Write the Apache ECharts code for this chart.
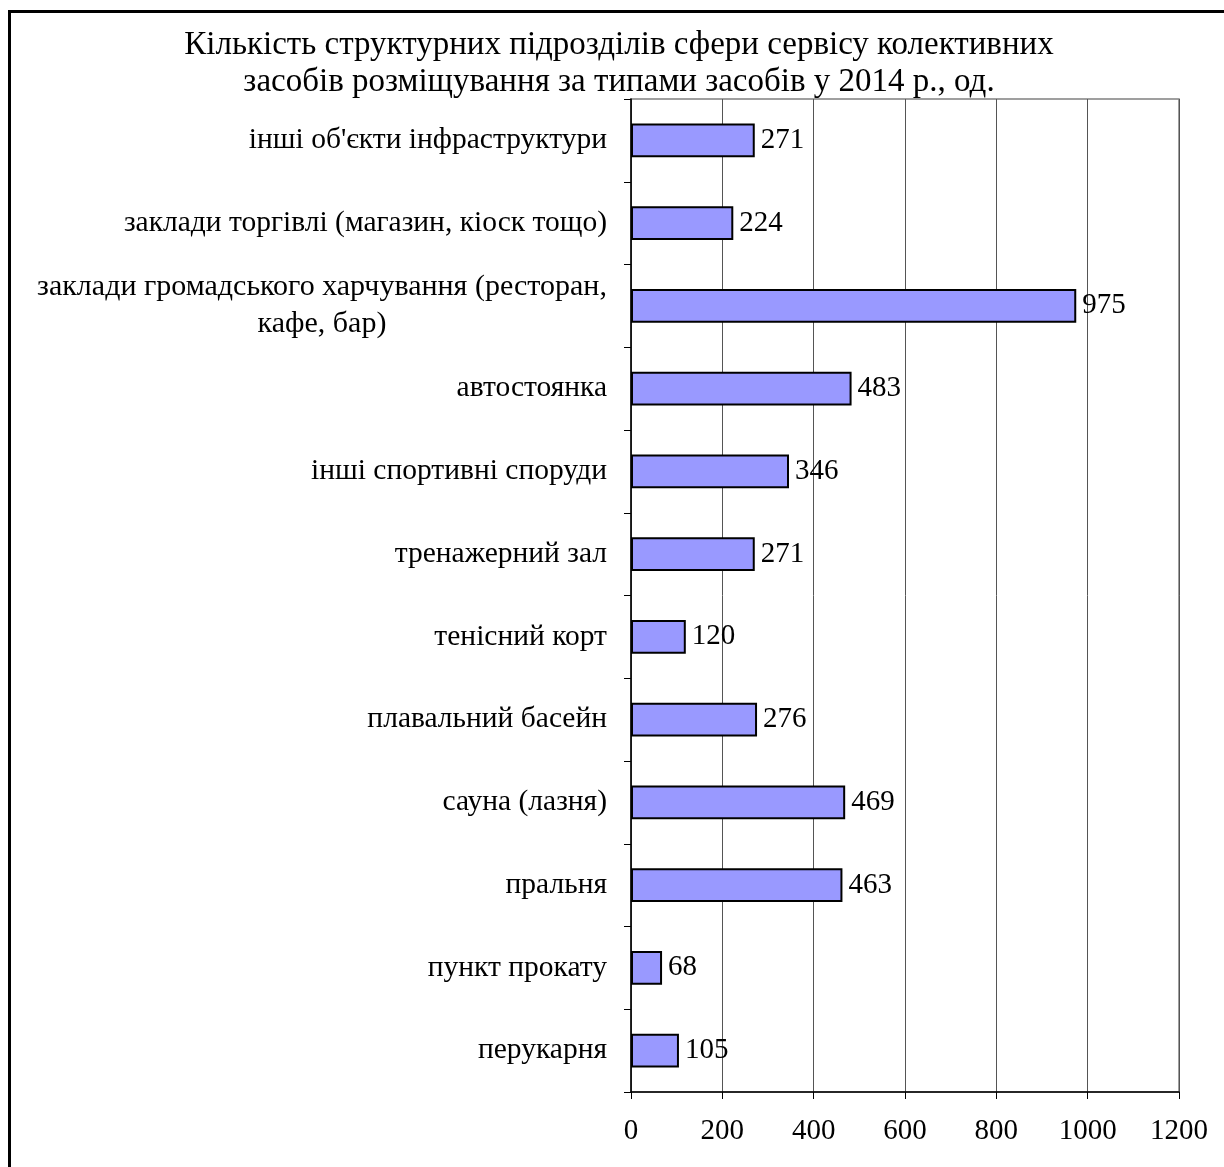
<!DOCTYPE html>
<html>
<head>
<meta charset="utf-8">
<script src="https://cdn.jsdelivr.net/npm/echarts@6/dist/echarts.min.js"></script>
<style>
html,body{margin:0;padding:0;background:#fff;}
#frame{position:absolute;left:8px;top:10px;width:1240px;height:1200px;border:3px solid #000;box-sizing:border-box;}
#chart{position:absolute;left:0;top:0;width:1224px;height:1167px;}
</style>
</head>
<body>
<div id="frame"></div>
<div id="chart"></div>
<script>
const titleLines = ["Кількість структурних підрозділів сфери сервісу колективних", "засобів розміщування за типами засобів у 2014 р., од."];
const categories = [
  "інші об'єкти інфраструктури",
  "заклади торгівлі (магазин, кіоск тощо)",
  "заклади громадського харчування (ресторан,\nкафе, бар)",
  "автостоянка",
  "інші спортивні споруди",
  "тренажерний зал",
  "тенісний корт",
  "плавальний басейн",
  "сауна (лазня)",
  "пральня",
  "пункт прокату",
  "перукарня"
];
const values = [271, 224, 975, 483, 346, 271, 120, 276, 469, 463, 68, 105];
const xTicks = [0, 200, 400, 600, 800, 1000, 1200];

const FONT = "'Liberation Serif', 'Times New Roman', serif";
const chart = echarts.init(document.getElementById('chart'));
chart.setOption({
  animation: false,
  backgroundColor: 'transparent',
  title: {
    text: titleLines.join('\n'),
    left: 614, top: 22, textAlign: 'center',
    textStyle: {fontFamily: FONT, fontSize: 33, fontWeight: 'normal', color: '#000', lineHeight: 37}
  },
  grid: {left: 631, right: 45, top: 99, bottom: 75, show: true, borderColor: '#808080', borderWidth: 1.5, containLabel: false},
  xAxis: {
    type: 'value', min: xTicks[0], max: xTicks[xTicks.length - 1], interval: 200,
    axisLine: {show: true, lineStyle: {color: '#000', width: 1.5}},
    axisTick: {show: true, length: 7, lineStyle: {color: '#000'}},
    axisLabel: {fontFamily: FONT, fontSize: 29, color: '#000', margin: 25, formatter: function (v) { return String(v); }},
    splitLine: {show: true, lineStyle: {color: '#555', width: 1}}
  },
  yAxis: {
    type: 'category', data: categories, inverse: true,
    axisLine: {show: true, lineStyle: {color: '#000', width: 1.5}},
    axisTick: {show: true, length: 7, lineStyle: {color: '#000'}},
    axisLabel: {
      fontFamily: FONT, fontSize: 29.5, color: '#000', margin: 24,
      formatter: function (v) {
        if (v.indexOf('\n') >= 0) {
          return v.split('\n').map(function (s) { return '{m|' + s + '}'; }).join('\n');
        }
        return v;
      },
      rich: {m: {fontFamily: FONT, fontSize: 30, color: '#000', width: 570, align: 'center', lineHeight: 37}}
    }
  },
  series: [{
    type: 'bar', data: values, barCategoryGap: '59%',
    itemStyle: {color: '#9999FF', borderColor: '#000', borderWidth: 2},
    label: {show: true, position: 'right', distance: 6, fontFamily: FONT, fontSize: 29, color: '#000'}
  }]
});
</script>
</body>
</html>
